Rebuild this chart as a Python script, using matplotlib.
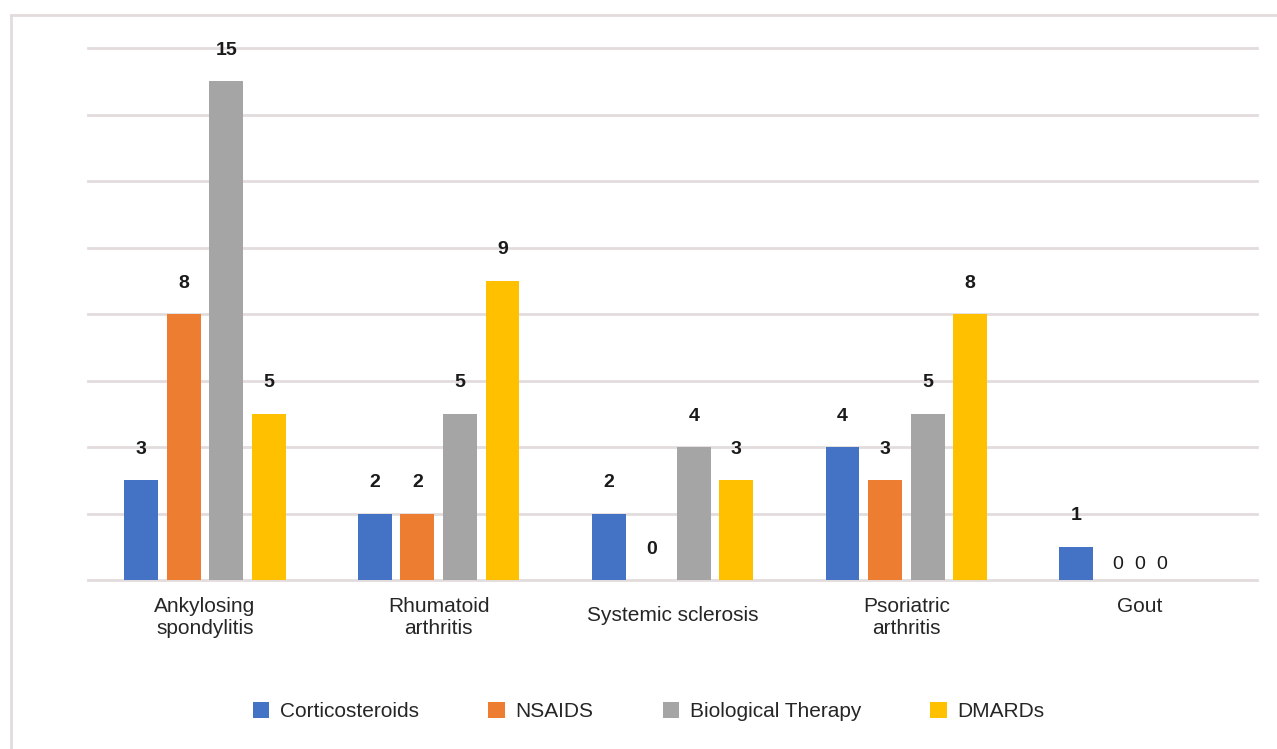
import numpy as np
import matplotlib.pyplot as plt
from matplotlib.patches import Patch
from matplotlib.lines import Line2D
from matplotlib.transforms import ScaledTranslation

plt.rcParams['font.family'] = ['Liberation Sans', 'DejaVu Sans']

# Data
diseases = ['Ankylosing\nspondylitis', 'Rhumatoid\narthritis', 'Systemic sclerosis',
            'Psoriatric\narthritis', 'Gout']
corticosteroids = [3, 2, 2, 4, 1]
nsaids = [8, 2, 0, 3, 0]
biological = [15, 5, 4, 5, 0]
dmards = [5, 9, 3, 8, 0]

series = [('Corticosteroids', corticosteroids, '#4472C4'),
          ('NSAIDS', nsaids, '#ED7D31'),
          ('Biological Therapy', biological, '#A5A5A5'),
          ('DMARDs', dmards, '#FFC000')]

grid_color = '#E2DCDC'
step = 0.182
bar_width = 0.145

fig = plt.figure(figsize=(12.77, 7.49), dpi=100)
ax = fig.add_axes([88 / 1277, 1 - 580 / 749, (1257 - 88) / 1277, (580 - 48) / 749])

x = np.arange(len(diseases))
for i, (name, vals, color) in enumerate(series):
    pos = x + (i - 1.5) * step
    ax.bar(pos, vals, bar_width, color=color, label=name, zorder=3)
    for j, (px, v) in enumerate(zip(pos, vals)):
        if v == 0 and j == len(diseases) - 1:
            # the empty Gout columns share one small row of labels
            ax.text(x[j] + (i - 2) * 0.094, v + 0.48, str(v), ha='center', va='center',
                    fontsize=14, color='#1a1a1a', zorder=4)
        else:
            ax.text(px, v + 0.93, str(v), ha='center', va='center',
                    fontsize=14, fontweight='bold', color='#1a1a1a', zorder=4)

ax.set_xlim(-0.5, len(diseases) - 0.5)
ax.set_ylim(0, 16)
ax.set_yticks(np.arange(0, 17, 2))
ax.yaxis.grid(True, color=grid_color, linewidth=2, zorder=0)
for gl in ax.get_ygridlines():
    gl.set_clip_on(False)
ax.tick_params(axis='y', left=False, labelleft=False)
ax.set_xticks(x)
ax.set_xticklabels(diseases, fontsize=15, color='#262626', linespacing=1.22)
ax.tick_params(axis='x', length=0, pad=12)
for lbl in ax.get_xticklabels():
    if '\n' not in lbl.get_text() and lbl.get_text() != 'Gout':
        lbl.set_transform(lbl.get_transform() + ScaledTranslation(0, -9 / 100, fig.dpi_scale_trans))
for s in ax.spines.values():
    s.set_visible(False)

handles = [Patch(facecolor=c, edgecolor='none') for _, _, c in series]
labels = [n for n, _, _ in series]
fig.legend(handles, labels, loc='center', bbox_to_anchor=(0.508, 0.050), ncol=4,
           frameon=False, fontsize=15, handlelength=0.8, handleheight=0.8,
           handletextpad=0.5, columnspacing=3.33, labelcolor='#262626')

# outer frame of the chart area
fig.add_artist(Line2D([11 / 1277, 11 / 1277], [0, 1 - 15 / 749], color=grid_color, linewidth=2))
fig.add_artist(Line2D([11 / 1277, 1], [1 - 15 / 749, 1 - 15 / 749], color=grid_color, linewidth=2))

fig.savefig('out.png', dpi=100, facecolor='white')
